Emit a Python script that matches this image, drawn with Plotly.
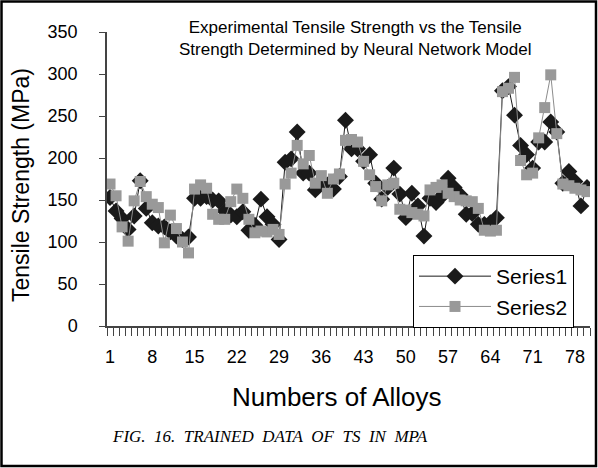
import plotly.graph_objects as go

# ---- data ----
alloy_no = list(range(1, 81))
series1 = [153, 137, 128, 115, 131, 173, 140, 123, 119, 118,
           112, 107, 103, 106, 152, 152, 154, 150, 149, 137,
           132, 130, 136, 114, 120, 151, 130, 121, 103, 195,
           199, 231, 182, 182, 162, 170, 168, 163, 178, 245,
           211, 211, 196, 204, 170, 151, 165, 188, 157, 129,
           158, 143, 107, 152, 147, 155, 176, 165, 156, 133,
           134, 121, 121, 123, 129, 280, 285, 251, 215, 204,
           188, 219, 219, 243, 231, 170, 184, 172, 143, 165]
series2 = [169, 155, 118, 101, 149, 172, 154, 145, 141, 99,
           132, 116, 100, 87, 163, 168, 164, 133, 127, 127,
           148, 163, 152, 127, 111, 113, 112, 115, 109, 169,
           182, 215, 193, 203, 170, 179, 158, 175, 181, 221,
           222, 219, 196, 180, 166, 149, 168, 170, 139, 138,
           135, 133, 131, 162, 165, 168, 158, 154, 150, 149,
           148, 140, 114, 113, 114, 279, 283, 296, 197, 180,
           182, 224, 260, 299, 229, 169, 167, 164, 162, 160]
tick_vals = [1, 8, 15, 22, 29, 36, 43, 50, 57, 64, 71, 78]
tick_text = [str(v) for v in tick_vals]
y_ticks = [0, 50, 100, 150, 200, 250, 300, 350]

title_text = "Experimental Tensile Strength vs the Tensile<br>Strength Determined by Neural Network Model"
y_title = "Tensile Strength (MPa)"
x_title = "Numbers of Alloys"
caption = "FIG.&nbsp; 16.&nbsp; TRAINED&nbsp; DATA&nbsp; OF&nbsp; TS&nbsp; IN&nbsp; MPA"

# ---- layout geometry (pixels) ----
W, H = 598, 468
L, R, T, B = 107, 590, 32, 326

def px(x):
    return (x - L) / (R - L)

def py(y):
    return (B - y) / (B - T)

FONT = "Liberation Sans, Arial, sans-serif"

fig = go.Figure()
fig.add_trace(go.Scatter(
    x=alloy_no, y=series1, name="Series1", mode="lines+markers",
    line=dict(color="#1a1a1a", width=1),
    marker=dict(symbol="diamond", size=13, color="#1a1a1a"),
))
fig.add_trace(go.Scatter(
    x=alloy_no, y=series2, name="Series2", mode="lines+markers",
    line=dict(color="#8c8c8c", width=1),
    marker=dict(symbol="square", size=11, color="#999999"),
))

fig.update_layout(
    width=W, height=H,
    margin=dict(l=L, r=W - R, t=T, b=H - B, pad=0),
    paper_bgcolor="white", plot_bgcolor="white",
    font=dict(family=FONT, color="black"),
    showlegend=True,
    legend=dict(
        x=px(413), y=py(255), xanchor="left", yanchor="top",
        bordercolor="black", borderwidth=1, bgcolor="white",
        font=dict(size=21, family=FONT), itemwidth=72,
        tracegroupgap=0,
    ),
    xaxis=dict(
        range=[0.5, 80.5], showgrid=False, zeroline=False,
        showline=True, linecolor="#444444", linewidth=1.5,
        tickmode="array", tickvals=tick_vals, ticktext=tick_text,
        ticks="", tickfont=dict(size=18, family=FONT), ticklabelstandoff=14,
        minor=dict(tickmode="linear", tick0=0.5, dtick=1, ticks="outside",
                   ticklen=8, tickcolor="#444444", tickwidth=1, showgrid=False),
    ),
    yaxis=dict(
        range=[0, 350], showgrid=False, zeroline=False,
        showline=True, linecolor="#444444", linewidth=1.5,
        tickmode="array", tickvals=y_ticks,
        ticks="outside", ticklen=6, tickcolor="#444444",
        tickfont=dict(size=18, family=FONT), ticklabelstandoff=18,
    ),
    shapes=[dict(type="rect", xref="paper", yref="paper",
                 x0=px(1.5), x1=px(596), y0=py(466), y1=py(1.5),
                 line=dict(color="black", width=2.5), layer="above")],
    annotations=[
        dict(text=title_text, xref="paper", yref="paper", x=px(355), y=py(38),
             xanchor="center", yanchor="middle", showarrow=False,
             font=dict(size=17, family=FONT)),
        dict(text=y_title, xref="paper", yref="paper", x=px(21), y=py(185),
             xanchor="center", yanchor="middle", textangle=-90, showarrow=False,
             font=dict(size=23, family=FONT)),
        dict(text=x_title, xref="paper", yref="paper", x=px(337), y=py(397),
             xanchor="center", yanchor="middle", showarrow=False,
             font=dict(size=26, family=FONT)),
        dict(text="<i>" + caption + "</i>", xref="paper", yref="paper", x=px(270), y=py(436),
             xanchor="center", yanchor="middle", showarrow=False,
             font=dict(size=17, family="Liberation Serif, Times New Roman, serif")),
    ],
)

fig.write_html("out.html", config={"displayModeBar": False},
               post_script="document.body.style.margin='0';")
